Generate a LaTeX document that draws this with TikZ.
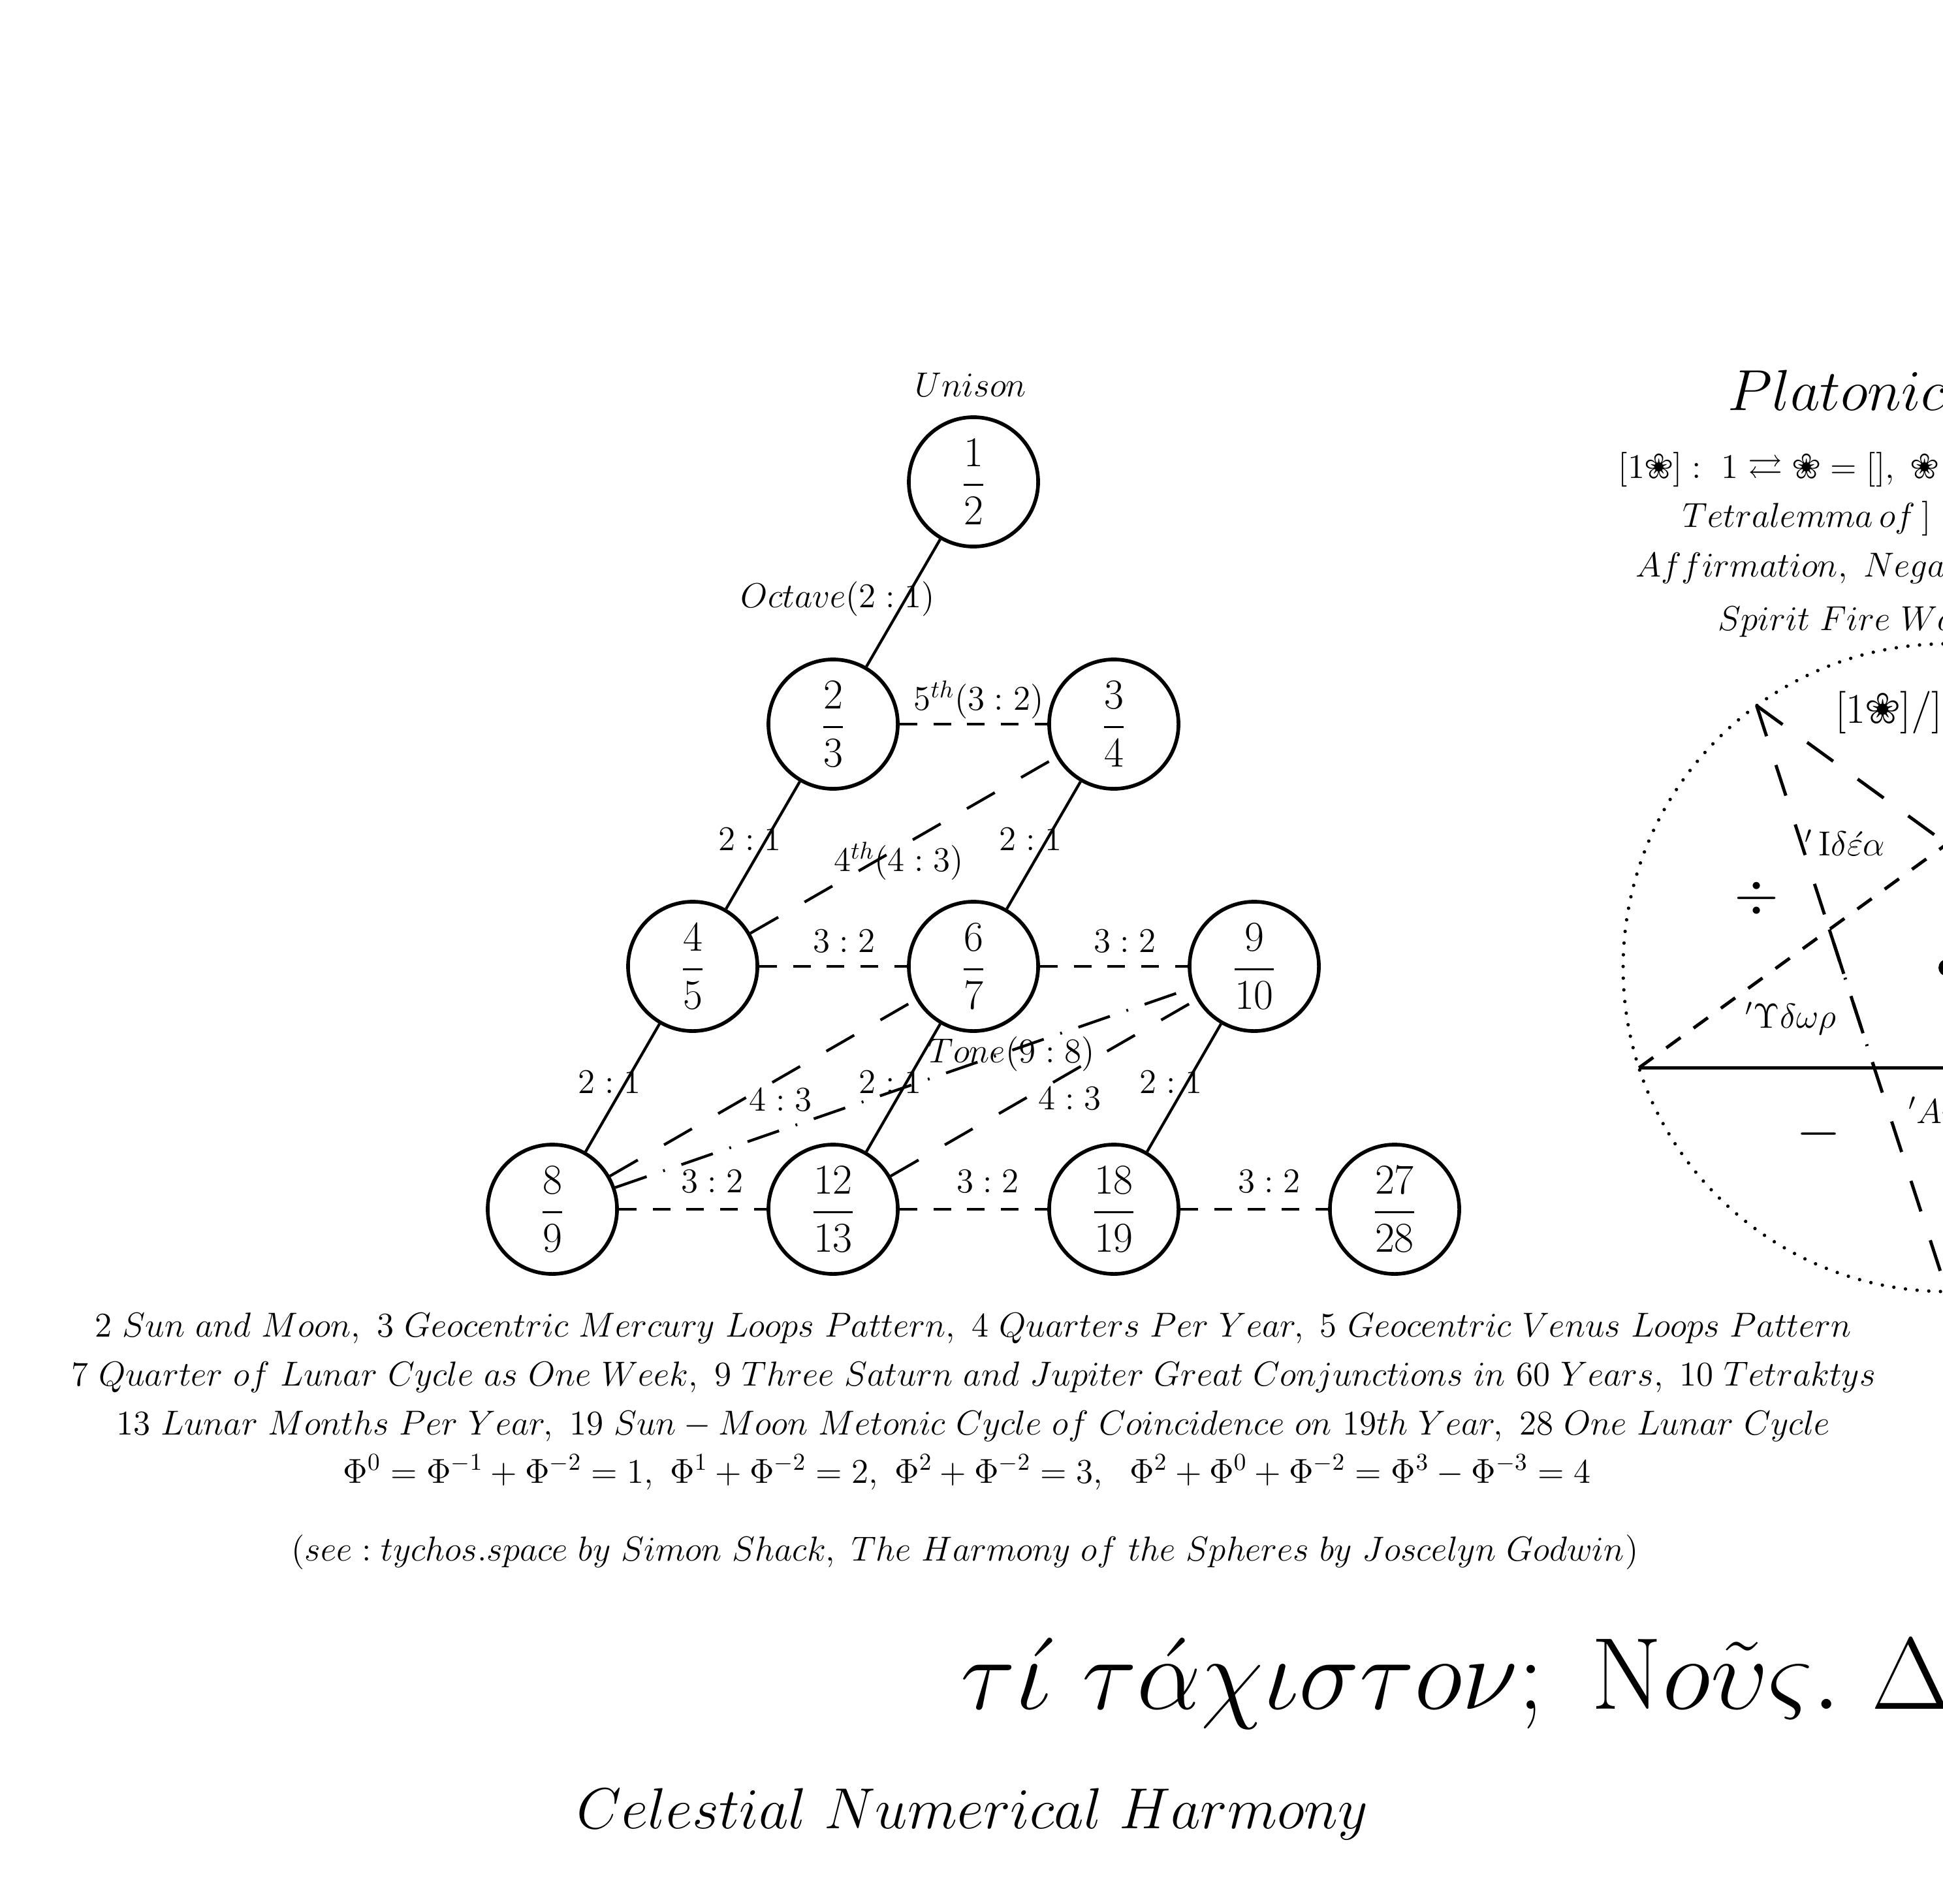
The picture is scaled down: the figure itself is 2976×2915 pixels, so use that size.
\RequirePackage{fix-cm}
\documentclass[tikz,border=0pt]{standalone}
\usepackage{amsmath,amssymb,pifont}
\usetikzlibrary{calc}
\newcommand{\flwr}{\mbox{\ding{96}}}
\begin{document}
\begin{tikzpicture}[x=0.01cm,y=-0.01cm,
  num/.style={circle,draw,line width=1.6pt,minimum size=1.98cm,inner sep=0pt,font=\fontsize{18.5}{22}\selectfont},
  lbl/.style={inner sep=0pt,font=\fontsize{15.1}{18}\selectfont},
  txtline/.style={inner sep=0pt,anchor=base,font=\fontsize{15.1}{18}\selectfont},
  txtleft/.style={inner sep=0pt,anchor=base west,font=\fontsize{15.1}{18}\selectfont},
  bigop/.style={inner sep=0pt,font=\fontsize{24.9}{28}\selectfont},
  solidedge/.style={line width=1.2pt},
  fifthedge/.style={line width=1.2pt,dash pattern=on 7.7pt off 7pt},
  fourthedge/.style={line width=1.2pt,dash pattern=on 14pt off 13.2pt},
  toneedge/.style={line width=1.2pt,dash pattern=on 14.5pt off 7.6pt on 0.8pt off 7.6pt},
  pent/.style={line width=1.4pt},
  dotcircle/.style={line width=1.5pt,line cap=round,dash pattern=on 0pt off 5.1pt},
]
\useasboundingbox (0,0) rectangle (2976,2915);

% ---- harmony lattice ----
\node[num] (a) at (1491,738) {$\dfrac{1}{2}$};
\node[num] (b) at (1276,1109) {$\dfrac{2}{3}$};
\node[num] (c) at (1706,1109) {$\dfrac{3}{4}$};
\node[num] (d) at (1061,1480) {$\dfrac{4}{5}$};
\node[num] (e) at (1491,1480) {$\dfrac{6}{7}$};
\node[num] (f) at (1921,1480) {$\dfrac{9}{10}$};
\node[num] (g) at (846,1852) {$\dfrac{8}{9}$};
\node[num] (h) at (1276,1852) {$\dfrac{12}{13}$};
\node[num] (i) at (1706,1852) {$\dfrac{18}{19}$};
\node[num] (j) at (2136,1852) {$\dfrac{27}{28}$};

\node[lbl,anchor=base] (unison) at (1487,607) {$Unison$};

\draw[solidedge] (a) -- (b) node[lbl,midway,shift={(-100,-6)}] (lab) {$Octave(2:1)$};
\draw[fifthedge] (b) -- (c) node[lbl,midway,shift={(8,-37)}] (lbc) {$5^{th}(3:2)$};
\draw[solidedge] (b) -- (d) node[lbl,midway,shift={(-20,-9)}] (lbd) {$2:1$};
\draw[solidedge] (c) -- (e) node[lbl,midway,shift={(-20,-9)}] (lce) {$2:1$};
\draw[fourthedge] (d) -- (c) node[lbl,midway,shift={(-7,24)}] (ldc) {$4^{th}(4:3)$};
\draw[fifthedge] (d) -- (e) node[lbl,midway,shift={(17,-39)}] (lde) {$3:2$};
\draw[fifthedge] (e) -- (f) node[lbl,midway,shift={(17,-39)}] (lef) {$3:2$};
\draw[solidedge] (d) -- (g) node[lbl,midway,shift={(-20,-9)}] (ldg) {$2:1$};
\draw[solidedge] (e) -- (h) node[lbl,midway,shift={(-20,-9)}] (leh) {$2:1$};
\draw[solidedge] (f) -- (i) node[lbl,midway,shift={(-20,-9)}] (lfi) {$2:1$};
\draw[fourthedge] (g) -- (e) node[lbl,midway,shift={(27,18)}] (lge) {$4:3$};
\draw[fourthedge] (h) -- (f) node[lbl,midway,shift={(40,16)}] (lhf) {$4:3$};
\draw[toneedge] (g) -- (f) node[lbl,midway,shift={(166,-52)}] (lgf) {$Tone(9:8)$};
\draw[fifthedge] (g) -- (h) node[lbl,midway,shift={(30,-43)}] (lgh) {$3:2$};
\draw[fifthedge] (h) -- (i) node[lbl,midway,shift={(22,-43)}] (lhi) {$3:2$};
\draw[fifthedge] (i) -- (j) node[lbl,midway,shift={(23,-43)}] (lij) {$3:2$};

% ---- captions ----
\node[txtline] (t1) at (1491,2047) {$2\ Sun\ and\ Moon,\ 3\ Geocentric\ Mercury\ Loops\ Pattern,\ 4\ Quarters\ Per\ Year,\ 5\ Geocentric\ Venus\ Loops\ Pattern$};
\node[txtline] (t2) at (1491,2122) {$7\ Quarter\ of\ Lunar\ Cycle\ as\ One\ Week,\ 9\ Three\ Saturn\ and\ Jupiter\ Great\ Conjunctions\ in\ 60\ Years,\ 10\ Tetraktys$};
\node[txtline] (t3) at (1491,2197) {$13\ Lunar\ Months\ Per\ Year,\ 19\ Sun-Moon\ Metonic\ Cycle\ of\ Coincidence\ on\ 19th\ Year,\ 28\ One\ Lunar\ Cycle$};
\node[txtline] (t4) at (1481,2271) {$\Phi^0=\Phi^{-1}+\Phi^{-2}=1,\ \Phi^1+\Phi^{-2}=2,\ \Phi^2+\Phi^{-2}=3,\ \ \Phi^2+\Phi^0+\Phi^{-2}=\Phi^3-\Phi^{-3}=4$};
\node[txtline] (t5) at (1478,2390) {$(see:tychos.space\ by\ Simon\ Shack,\ The\ Harmony\ of\ the\ Spheres\ by\ Joscelyn\ Godwin)$};

\node[inner sep=0pt,anchor=base west,font=\fontsize{44.5}{50}\selectfont] (greek) at (1471,2617)
  {$\tau\acute{\iota}\ \tau\acute{\alpha}\chi\iota\sigma\tau o\nu;\ \mathrm{N}o\tilde{\upsilon}\varsigma.\ \Delta\iota\grave{\alpha}$};
\node[inner sep=0pt,anchor=base,font=\fontsize{25.2}{30}\selectfont] (title) at (1490,2800) {$Celestial\ Numerical\ Harmony$};

% ---- platonic panel ----
\node[inner sep=0pt,anchor=base west,font=\fontsize{25.2}{30}\selectfont] (plat) at (2646,628) {$Platonic$};
\node[txtleft] (h1) at (2478,732) {$[1\flwr]:\ 1\rightleftarrows\flwr=[],\ \flwr$};
\node[txtleft] (h2) at (2577,807) {$Tetralemma\,of\,]$};
\node[txtleft] (h3) at (2505,883) {$Affirmation,\ Negation$};
\node[txtleft] (h4) at (2631,965) {$Spirit\ Fire\ Water$};

\coordinate (pc) at (2982,1482);
\coordinate (v1) at (2690.5,1080.7);
\coordinate (v2) at (2510.3,1635.3);
\coordinate (v3) at (2982,1978);
\coordinate (v4) at (3453.7,1635.3);
\coordinate (v5) at (3273.5,1080.7);
\coordinate (p1) at ($(v1)!0.381966!(v3)$);
\coordinate (p2) at ($(v1)!0.618034!(v3)$);

\draw[dotcircle] (pc) circle (496);
\draw[pent,dash pattern=on 14pt off 13.2pt] (v1) -- (v4);
\draw[pent,dash pattern=on 14pt off 13.2pt] (v1) -- (v3);
\draw[pent,dash pattern=on 7.7pt off 7pt] (v2) -- (v5);
\draw[pent] (v2) -- (v4);
\draw[pent,dash pattern=on 14.5pt off 7.6pt on 0.8pt off 7.6pt] (p1) -- (p2);
\fill (pc) circle (13);

\node[inner sep=0pt,anchor=base west,font=\fontsize{18.5}{22}\selectfont] (one) at (2811,1107) {$[1\flwr]/]$};
\node[lbl] (idea) at (2826,1291) {${}'\,\mathrm{I}\delta\acute{\varepsilon}\alpha$};
\node[bigop] (dv) at (2691,1376) {$\div$};
\node[lbl] (hydor) at (2743,1560) {${}'\Upsilon\delta\omega\rho$};
\node[bigop] (mn) at (2786,1737) {$-$};
\node[lbl,anchor=base west] (aer) at (2923,1720) {${}'A\acute{\eta}\rho$};
\end{tikzpicture}
\end{document}
